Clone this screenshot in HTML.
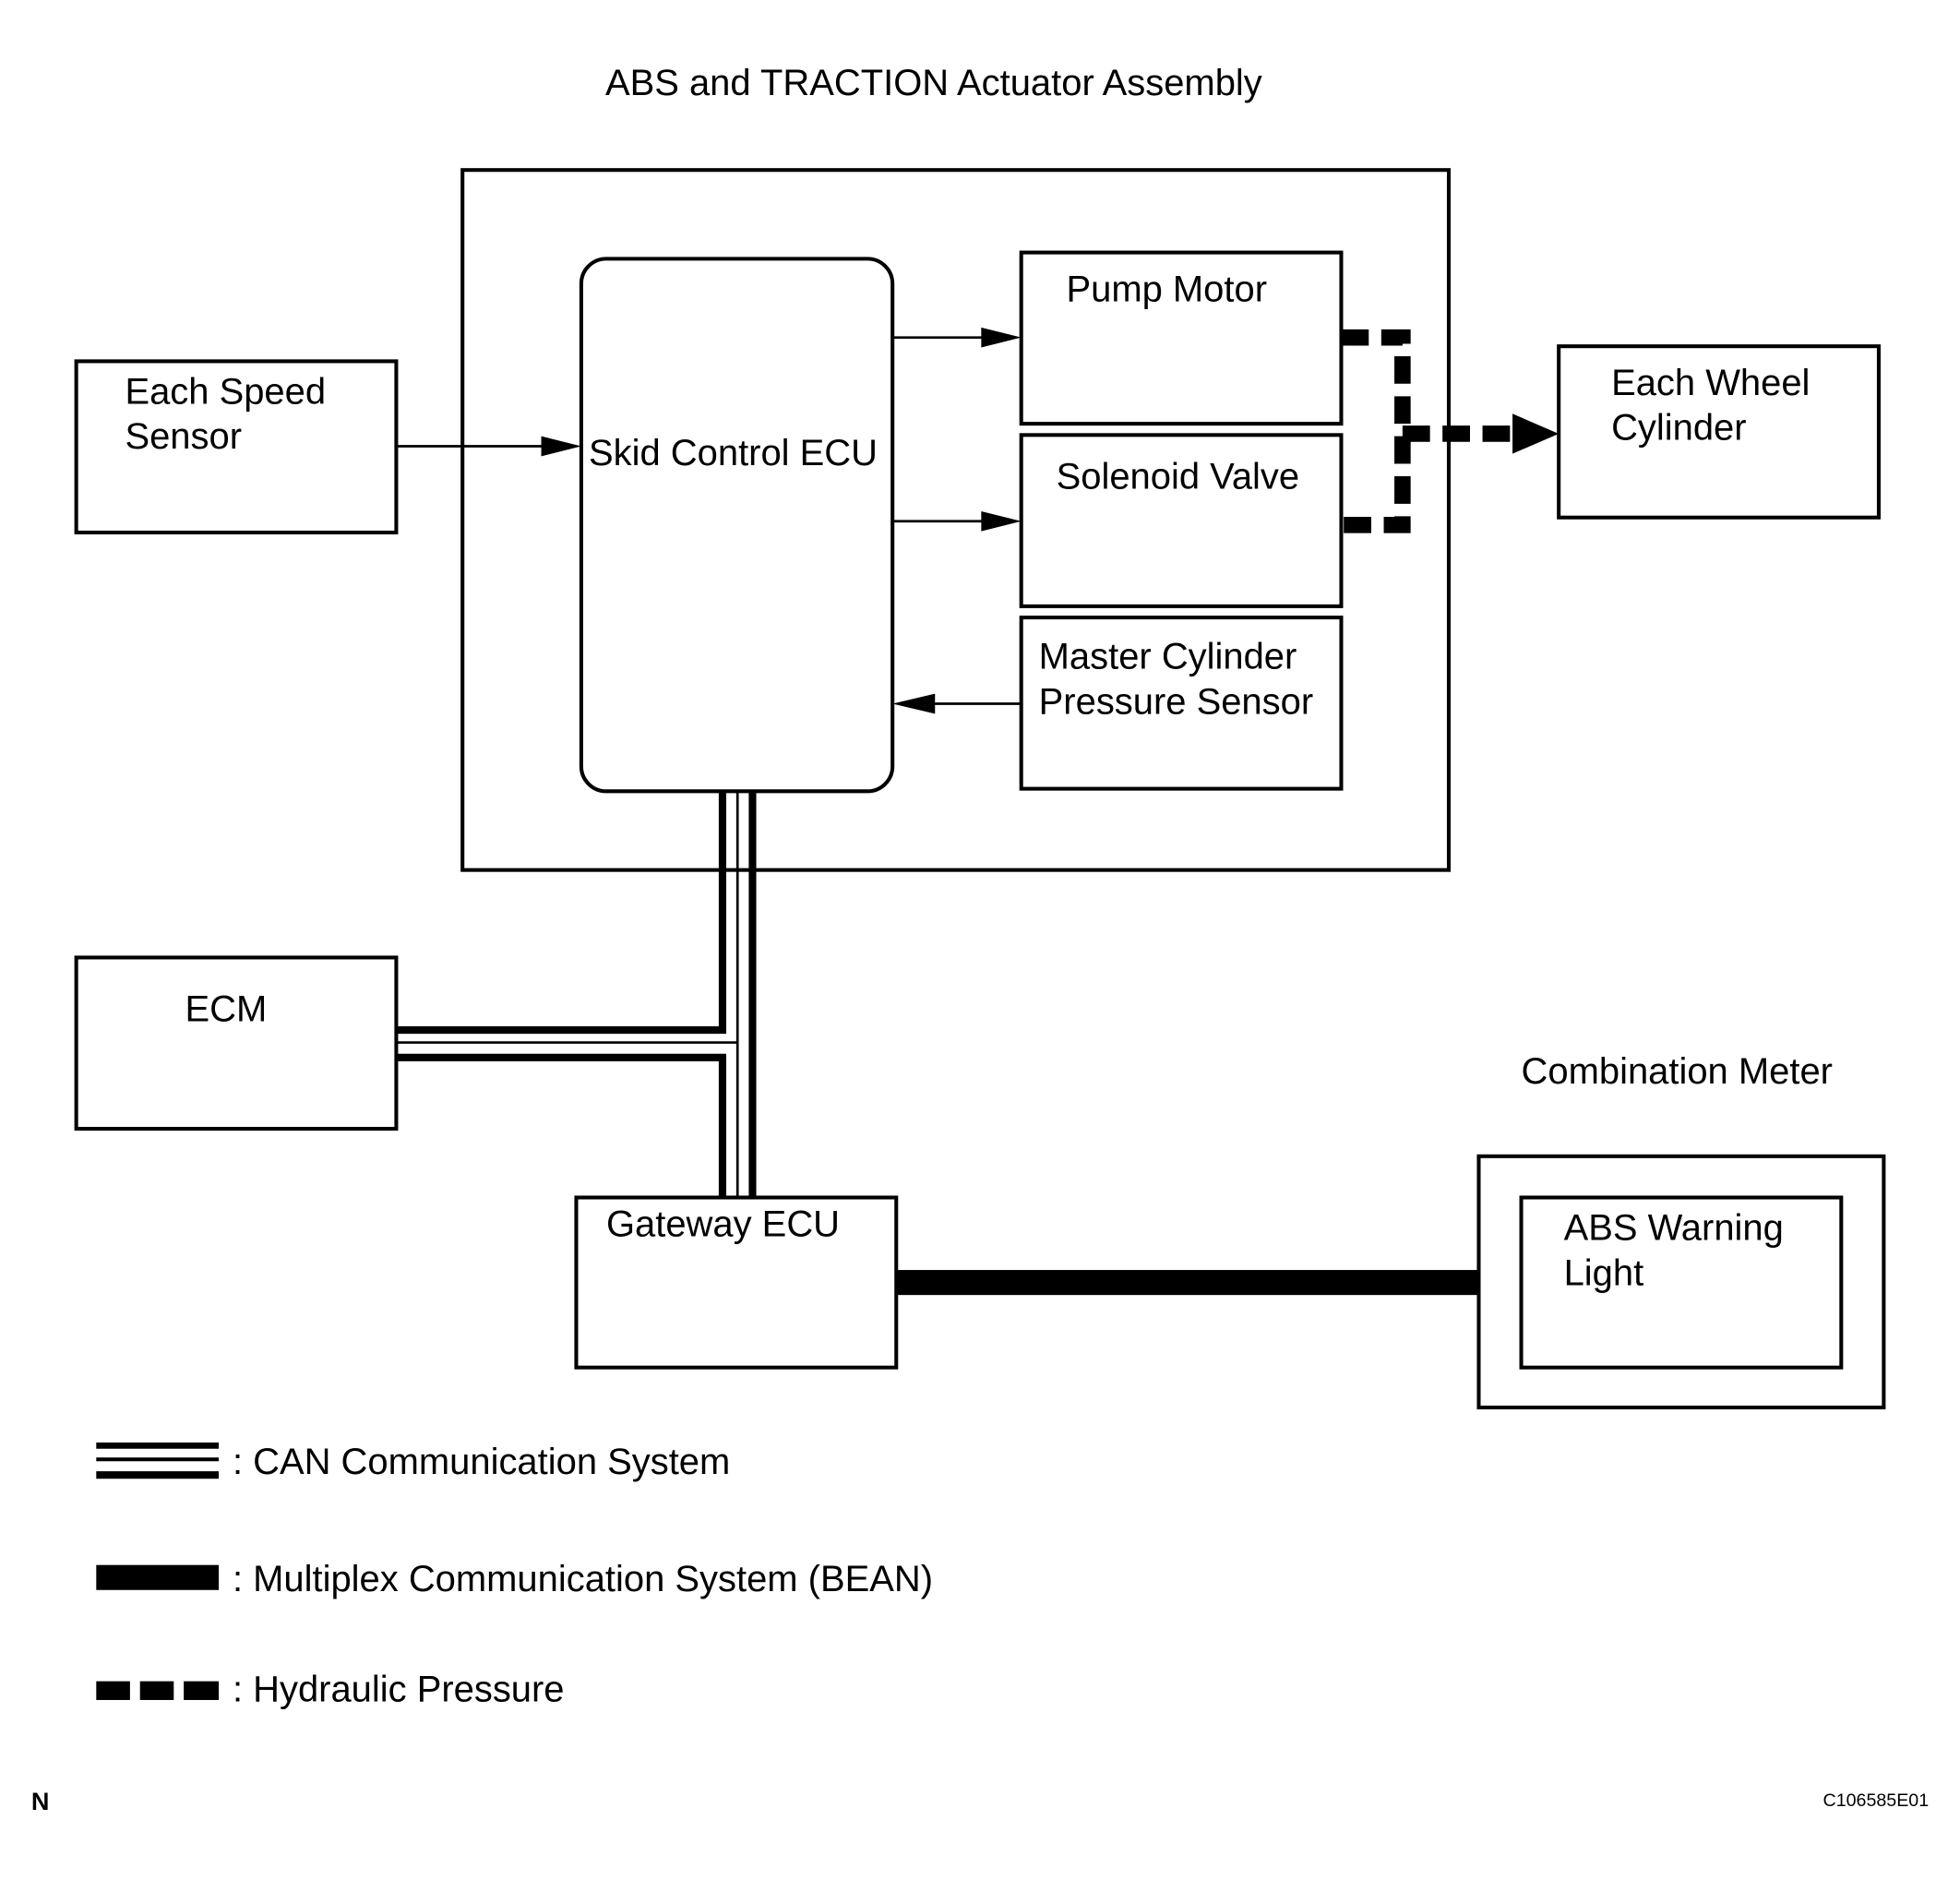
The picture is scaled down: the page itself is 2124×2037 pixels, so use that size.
<!DOCTYPE html>
<html><head><meta charset="utf-8"><style>html,body{margin:0;padding:0;background:#fff}svg{display:block}</style></head>
<body>
<svg width="2124" height="2037" viewBox="0 0 1568 1504" preserveAspectRatio="none" xmlns="http://www.w3.org/2000/svg" font-family="Liberation Sans, sans-serif" font-size="29.5">
<rect width="1568" height="1504" fill="#fff"/>
<text x="747" y="76" text-anchor="middle">ABS and TRACTION Actuator Assembly</text>
<g fill="none" stroke="#000" stroke-width="3">
<rect x="370" y="136" width="789" height="560"/>
<rect x="465" y="207" width="249" height="426" rx="20"/>
<rect x="817" y="202" width="256" height="137"/>
<rect x="817" y="348" width="256" height="137"/>
<rect x="817" y="494" width="256" height="137"/>
<rect x="61" y="289" width="256" height="137"/>
<rect x="1247" y="277" width="256" height="137"/>
<rect x="61" y="766" width="256" height="137"/>
<rect x="461" y="958" width="256" height="136"/>
<rect x="1183" y="925" width="324" height="201"/>
<rect x="1217" y="958" width="256" height="136"/>
<line x1="317" y1="357" x2="435" y2="357" stroke-width="2"/>
<line x1="714" y1="270" x2="787" y2="270" stroke-width="2"/>
<line x1="714" y1="417" x2="787" y2="417" stroke-width="2"/>
<line x1="747" y1="563" x2="817" y2="563" stroke-width="2"/>
</g>
<g fill="#000">
<polygon points="465,357 433,349 433,365"/>
<polygon points="817,270 785,262 785,278"/>
<polygon points="817,417 785,409 785,425"/>
<polygon points="714,563 748,555 748,571"/>
<polygon points="1247,347 1210,331 1210,363"/>
</g>
<g fill="none" stroke="#000" stroke-width="13">
<path d="M1073 270 H1122 V420 H1073" stroke-dasharray="22 10"/>
<path d="M1122 347 H1212" stroke-dasharray="22 10"/>
</g>
<g fill="none" stroke="#000">
<path d="M578 633 V824 H317" stroke-width="6"/>
<path d="M590 633 V957" stroke-width="2"/>
<path d="M602 633 V957" stroke-width="6"/>
<path d="M317 846 H578 V957" stroke-width="6"/>
<path d="M317 834 H590" stroke-width="2"/>
</g>
<rect x="717" y="1016" width="466" height="20" fill="#000"/>
<text x="100" y="323">Each Speed</text><text x="100" y="359">Sensor</text>
<text x="471" y="372">Skid Control ECU</text>
<text x="853" y="241">Pump Motor</text>
<text x="845" y="391">Solenoid Valve</text>
<text x="831" y="535">Master Cylinder</text><text x="831" y="571">Pressure Sensor</text>
<text x="1289" y="316">Each Wheel</text><text x="1289" y="352">Cylinder</text>
<text x="148" y="817">ECM</text>
<text x="485" y="989">Gateway ECU</text>
<text x="1217" y="867">Combination Meter</text>
<text x="1251" y="992">ABS Warning</text><text x="1251" y="1028">Light</text>
<rect x="77" y="1154" width="98" height="5" fill="#000"/>
<rect x="77" y="1166" width="98" height="3" fill="#000"/>
<rect x="77" y="1177" width="98" height="6" fill="#000"/>
<text x="186" y="1179">: CAN Communication System</text>
<rect x="77" y="1252" width="98" height="20" fill="#000"/>
<text x="186" y="1273">: Multiplex Communication System (BEAN)</text>
<rect x="77" y="1345" width="27" height="15" fill="#000"/>
<rect x="112" y="1345" width="27" height="15" fill="#000"/>
<rect x="147" y="1345" width="28" height="15" fill="#000"/>
<text x="186" y="1361">: Hydraulic Pressure</text>
<text x="25" y="1448" font-weight="bold" font-size="20">N</text>
<text x="1543" y="1445" text-anchor="end" font-size="14.5">C106585E01</text>
</svg>
</body></html>
